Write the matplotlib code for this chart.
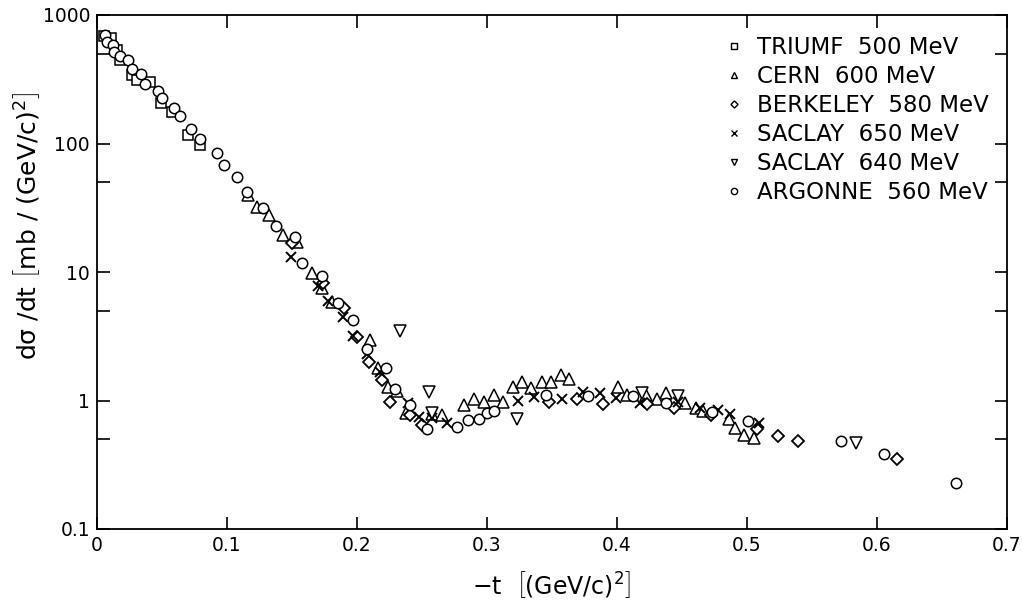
import matplotlib
matplotlib.use("Agg")
import matplotlib.pyplot as plt
from matplotlib.lines import Line2D
from matplotlib.ticker import FixedLocator, FixedFormatter

plt.rcParams['font.family'] = ['DejaVu Sans']
plt.rcParams['mathtext.fontset'] = 'custom'
plt.rcParams['mathtext.rm'] = 'DejaVu Sans'
plt.rcParams['mathtext.it'] = 'DejaVu Sans'

# ---------------- data ----------------
triumf_t = [0.005, 0.011, 0.015, 0.018, 0.027, 0.031, 0.041, 0.049, 0.058, 0.070, 0.079]
triumf_y = [690, 660, 535, 447, 340, 310, 300, 205, 175, 116, 97]

cern_t = [0.116, 0.123, 0.132, 0.143, 0.154, 0.165, 0.173, 0.181, 0.210, 0.216, 0.224,
          0.231, 0.238, 0.258, 0.265, 0.282, 0.290, 0.298, 0.305, 0.312, 0.320, 0.327,
          0.334, 0.342, 0.349, 0.357, 0.363, 0.401, 0.408, 0.422, 0.431, 0.438, 0.452,
          0.461, 0.466, 0.486, 0.491, 0.498, 0.505]
cern_y = [40, 32, 28, 19.4, 17, 9.8, 7.5, 5.8, 2.95, 1.8, 1.27,
          1.18, 0.80, 0.78, 0.77, 0.92, 1.03, 0.97, 1.10, 0.97, 1.27, 1.39,
          1.25, 1.39, 1.39, 1.58, 1.47, 1.27, 1.10, 1.10, 1.02, 1.14, 0.96,
          0.87, 0.83, 0.72, 0.61, 0.54, 0.51]

berkeley_t = [0.150, 0.174, 0.190, 0.200, 0.209, 0.219, 0.225, 0.241, 0.250, 0.348,
              0.369, 0.389, 0.423, 0.444, 0.472, 0.508, 0.524, 0.539, 0.615]
berkeley_y = [16.8, 8.2, 5.2, 3.1, 2.0, 1.45, 0.98, 0.77, 0.64, 0.97,
              1.02, 0.94, 0.94, 0.87, 0.77, 0.60, 0.53, 0.48, 0.35]

saclay650_t = [0.149, 0.170, 0.178, 0.189, 0.197, 0.208, 0.218, 0.239, 0.248, 0.258,
               0.269, 0.324, 0.336, 0.358, 0.374, 0.387, 0.399, 0.418, 0.447, 0.464,
               0.478, 0.487, 0.509]
saclay650_y = [13.1, 7.8, 5.9, 4.5, 3.2, 2.3, 1.67, 0.95, 0.74, 0.73,
               0.67, 1.0, 1.06, 1.02, 1.16, 1.14, 1.05, 0.96, 0.97, 0.87,
               0.84, 0.79, 0.67]

saclay640_t = [0.233, 0.255, 0.258, 0.323, 0.419, 0.447, 0.584]
saclay640_y = [3.47, 1.17, 0.80, 0.72, 1.14, 1.08, 0.47]

argonne_t = [0.006, 0.008, 0.012, 0.013, 0.018, 0.024, 0.027, 0.034, 0.037, 0.047,
             0.050, 0.059, 0.064, 0.072, 0.079, 0.092, 0.098, 0.108, 0.115, 0.128,
             0.138, 0.152, 0.158, 0.173, 0.185, 0.197, 0.208, 0.222, 0.229, 0.241,
             0.254, 0.277, 0.285, 0.294, 0.300, 0.305, 0.345, 0.378, 0.412, 0.438,
             0.473, 0.501, 0.572, 0.605, 0.661]
argonne_y = [700, 620, 585, 515, 480, 447, 380, 345, 290, 255,
             225, 190, 165, 130, 108, 84, 68, 55, 42, 31.5,
             23, 18.7, 11.8, 9.3, 5.75, 4.2, 2.5, 1.8, 1.23, 0.92,
             0.60, 0.62, 0.70, 0.72, 0.80, 0.83, 1.10, 1.09, 1.09, 0.96,
             0.81, 0.69, 0.48, 0.38, 0.23]

labels = ["TRIUMF  500 MeV", "CERN  600 MeV", "BERKELEY  580 MeV",
          "SACLAY  650 MeV", "SACLAY  640 MeV", "ARGONNE  560 MeV"]
x_ticks = [0, 0.1, 0.2, 0.3, 0.4, 0.5, 0.6, 0.7]
x_tick_labels = ["0", "0.1", "0.2", "0.3", "0.4", "0.5", "0.6", "0.7"]
y_ticks = [0.1, 1, 10, 100, 1000]
y_tick_labels = ["0.1", "1", "10", "100", "1000"]
y_minor = [0.5, 5, 50, 500]

# ---------------- plot ----------------
fig = plt.figure(figsize=(10.22, 6.02), dpi=100)
ax = fig.add_axes([97/1022, 1-529/602, 910/1022, 514/602])

series = [
    (triumf_t, triumf_y, 's', 7.5, 1.1),
    (cern_t, cern_y, '^', 8, 1.1),
    (berkeley_t, berkeley_y, 'D', 6, 1.3),
    (saclay650_t, saclay650_y, 'x', 7, 1.4),
    (saclay640_t, saclay640_y, 'v', 8, 1.1),
    (argonne_t, argonne_y, 'o', 7.5, 1.1),
]
handles = []
for (t, y, m, ms, mew), lab in zip(series, labels):
    ax.plot(t, y, linestyle='none', marker=m, ms=ms, mfc='white', mec='black',
            mew=mew, color='black')
    handles.append(Line2D([], [], linestyle='none', marker=m, ms=ms*0.6,
                          mfc='white', mec='black', mew=1.0, label=lab))

ax.set_yscale('log')
ax.set_xlim(0, 0.7)
ax.set_ylim(0.1, 1000)
ax.xaxis.set_major_locator(FixedLocator(x_ticks))
ax.xaxis.set_major_formatter(FixedFormatter(x_tick_labels))
ax.yaxis.set_major_locator(FixedLocator(y_ticks))
ax.yaxis.set_major_formatter(FixedFormatter(y_tick_labels))
ax.yaxis.set_minor_locator(FixedLocator(y_minor))
ax.yaxis.set_minor_formatter(FixedFormatter([""] * len(y_minor)))
ax.xaxis.set_minor_locator(FixedLocator([]))
ax.tick_params(which='both', direction='in', top=True, right=True,
               length=9, width=1.2, labelsize=13.5, pad=5)
for s in ax.spines.values():
    s.set_linewidth(1.3)

ax.set_xlabel(r'$-$t  $\left[\mathrm{(GeV/c)^2}\right]$', fontsize=17, labelpad=10)
ax.set_ylabel(r'd$\sigma$ /dt $\left[\mathrm{mb\ /\ (GeV/c)^2}\right]$',
              fontsize=18)
ax.yaxis.set_label_coords(-0.06, 0.59)

leg = ax.legend(handles=handles, loc='upper left', frameon=False, fontsize=16.5,
                handlelength=0.8, handletextpad=0.6, labelspacing=0.27,
                borderaxespad=0.0, borderpad=0.0, bbox_to_anchor=(0.69, 0.96))

fig.savefig('out.png', dpi=100)
